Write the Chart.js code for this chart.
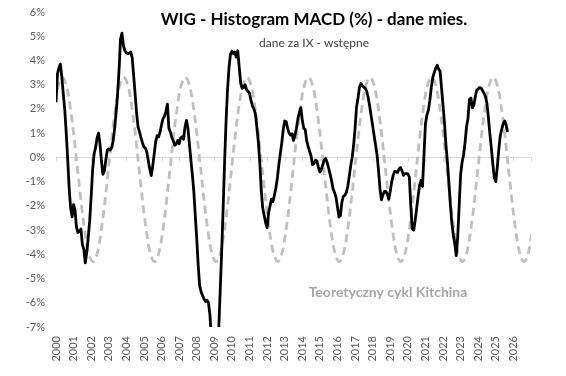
<!DOCTYPE html>
<html>
<head>
<meta charset="utf-8">
<script src="https://cdn.jsdelivr.net/npm/chart.js@4.4.1/dist/chart.umd.min.js"></script>
<style>
  html, body { margin: 0; padding: 0; background: #fff; }
</style>
</head>
<body>
<canvas id="chart-macd" width="566" height="376"></canvas>
<script>
// WIG MACD histogram, monthly values in %, Jan 2000 .. Sep 2025
const startYear = 2000;
const wigMacd = [
  2.28, 3.45, 3.7, 3.85, 3.3, 2.6, 1.95, 1.0, -0.1, -1.3, -2.1, -2.45,
  -1.95, -2.2, -2.9, -3.1, -3.05, -2.95, -3.6, -3.8, -4.35, -3.9, -3.3, -2.6,
  -1.6, -0.5, 0.15, 0.4, 0.8, 1.0, 0.56, -0.15, -0.7, -0.55, -0.1, 0.3,
  0.35, 0.3, 0.4, 0.7, 1.2, 1.85, 2.6, 3.6, 4.88, 5.13, 4.6, 4.4,
  4.32, 4.28, 4.3, 4.35, 4.1, 3.35, 2.6, 1.8, 1.25, 1.05, 0.8, 0.6,
  0.43, 0.38, 0.2, -0.15, -0.5, -0.75, -0.35, 0.15, 0.65, 0.9, 0.85, 1.05,
  1.35, 1.6, 1.7, 1.9, 2.2, 1.2, 1.05, 0.82, 0.68, 0.5, 0.55, 0.7,
  0.56, 0.8, 0.85, 0.75, 1.25, 1.53, 1.2, 0.55, -0.1, -0.7, -1.4, -2.4,
  -3.35, -4.45, -5.3, -5.55, -5.7, -5.85, -5.95, -5.9, -6.0, -6.5, -7.5, -8.0,
  -8.3, -8.1, -7.8, -7.1, -5.5, -3.9, -2.1, -0.2, 1.5, 2.8, 3.7, 4.25,
  4.38, 4.28, 4.35, 4.14, 4.4, 3.7, 3.05, 2.85, 2.88, 3.0, 2.8, 2.72,
  2.65, 2.35, 2.12, 2.0, 1.8, 1.25, 0.65, -0.2, -1.35, -2.1, -2.4, -2.7,
  -2.9, -2.3, -2.0, -1.72, -1.82, -1.55, -1.25, -0.85, -0.3, 0.15, 0.6, 1.15,
  1.5, 1.48, 1.2, 1.0, 0.92, 0.98, 0.7, 0.91, 1.2, 1.6, 1.85, 2.05,
  1.53, 1.2, 1.15, 0.68, 0.45, 0.25, 0.05, -0.3, -0.25, -0.12, -0.15, -0.42,
  -0.6, -0.5, -0.3, -0.1, -0.05, -0.22, -0.45, -0.7, -0.97, -1.3, -1.45, -1.65,
  -2.05, -2.46, -2.4, -1.85, -1.6, -1.57, -1.45, -1.2, -0.8, -0.35, 0.0, 0.5,
  1.2, 2.08, 2.45, 2.9, 3.05, 2.95, 2.9, 2.85, 2.72, 2.45, 2.1, 1.7,
  1.3, 0.9, 0.5, 0.1, -0.55, -1.3, -1.75, -1.55, -1.4, -1.4, -1.52, -1.72,
  -1.4, -1.0, -0.74, -0.58, -0.6, -0.62, -0.47, -0.42, -0.55, -0.74, -0.67, -0.67,
  -0.68, -0.8, -2.0, -2.95, -3.0, -2.6, -2.1, -1.6, -1.15, -0.95, -1.2, 0.1,
  1.39, 1.75, 1.95, 2.35, 2.9, 3.3, 3.5, 3.68, 3.8, 3.65, 3.55, 2.85,
  2.15, 1.4, 0.5, -0.2, -1.05, -1.95, -2.7, -3.2, -3.55, -4.05, -3.3, -2.0,
  -0.7, -0.2, 0.1, 0.6, 1.25, 1.6, 2.4, 2.45, 2.05, 2.15, 2.5, 2.78,
  2.82, 2.88, 2.85, 2.75, 2.65, 2.5, 2.2, 1.6, 0.95, 0.35, -0.3, -0.85,
  -1.0, -0.4, 0.3, 0.88, 1.15, 1.38, 1.5, 1.35, 1.05,
];

// theoretical Kitchin cycle, one reading every 3.5 months
const kitchinStart = 2000.06;
const kitchinStep = 3.5 / 12;
const kitchinCycle = [
  2.8, 3.3, 2.8, 1.4, -0.5, -2.4, -3.8, -4.3, -3.8, -2.4, -0.5, 1.4,
  2.8, 3.3, 2.8, 1.4, -0.5, -2.4, -3.8, -4.3, -3.8, -2.4, -0.5, 1.4,
  2.8, 3.3, 2.8, 1.4, -0.5, -2.4, -3.8, -4.3, -3.8, -2.4, -0.5, 1.4,
  2.8, 3.3, 2.8, 1.4, -0.5, -2.4, -3.8, -4.3, -3.8, -2.4, -0.5, 1.4,
  2.8, 3.3, 2.8, 1.4, -0.5, -2.4, -3.8, -4.3, -3.8, -2.4, -0.5, 1.4,
  2.8, 3.3, 2.8, 1.4, -0.5, -2.4, -3.8, -4.3, -3.8, -2.4, -0.5, 1.4,
  2.8, 3.3, 2.8, 1.4, -0.5, -2.4, -3.8, -4.3, -3.8, -2.4, -0.5, 1.4,
  2.8, 3.3, 2.8, 1.4, -0.5, -2.4, -3.8, -4.3, -3.8, -2.4,
];

const yearLabels = [
  '2000', '2001', '2002', '2003', '2004', '2005', '2006', '2007', '2008',
  '2009', '2010', '2011', '2012', '2013', '2014', '2015', '2016', '2017',
  '2018', '2019', '2020', '2021', '2022', '2023', '2024', '2025', '2026',
];

const titleText = 'WIG - Histogram MACD (%) - dane mies.';
const subtitleText = 'dane za IX - wstępne';
const kitchinText = 'Teoretyczny cykl Kitchina';

const FONT = 'Lato, "Open Sans", sans-serif';

const zeroAxis = {
  id: 'zeroAxis',
  beforeDatasetsDraw(chart) {
    const { ctx, chartArea, scales } = chart;
    const y0 = Math.round(scales.y.getPixelForValue(0)) + 0.5;
    ctx.save();
    ctx.strokeStyle = '#d9d9d9';
    ctx.lineWidth = 1;
    ctx.beginPath();
    ctx.moveTo(chartArea.left, y0);
    ctx.lineTo(chartArea.right, y0);
    scales.x.ticks.forEach((t) => {
      const x = Math.round(scales.x.getPixelForValue(t.value)) + 0.5;
      ctx.moveTo(x, y0);
      ctx.lineTo(x, y0 + 4);
    });
    ctx.stroke();
    ctx.restore();
  },
};

const chartText = {
  id: 'chartText',
  afterDraw(chart) {
    const { ctx } = chart;
    ctx.save();
    ctx.textAlign = 'center';
    ctx.textBaseline = 'middle';
    ctx.fillStyle = '#000';
    ctx.font = `bold 17px ${FONT}`;
    ctx.fillText(titleText, 314, 20);
    ctx.fillStyle = '#404040';
    ctx.font = `12px ${FONT}`;
    ctx.fillText(subtitleText, 314, 43);
    ctx.fillStyle = '#a6a6a6';
    ctx.font = `bold 14px ${FONT}`;
    ctx.fillText(kitchinText, 388, 292);
    ctx.restore();
  },
};

const ctx = document.getElementById('chart-macd').getContext('2d');

new Chart(ctx, {
  type: 'line',
  data: {
    datasets: [
      {
        label: 'WIG MACD',
        data: wigMacd.map((v, i) => ({ x: startYear + i / 12, y: v })),
        borderColor: '#000000',
        borderWidth: 2.8,
        borderJoinStyle: 'round',
        pointRadius: 0,
        tension: 0,
      },
      {
        label: kitchinText,
        data: kitchinCycle.map((v, i) => ({ x: kitchinStart + i * kitchinStep, y: v })),
        borderColor: '#bfbfbf',
        borderWidth: 2.8,
        borderDash: [8, 5],
        pointRadius: 0,
        cubicInterpolationMode: 'monotone',
      },
    ],
  },
  options: {
    responsive: false,
    animation: false,
    layout: { padding: { top: 12, right: 35, left: 0, bottom: 0 } },
    plugins: {
      legend: { display: false },
      tooltip: { enabled: false },
    },
    scales: {
      x: {
        type: 'linear',
        min: 2000,
        max: 2027,
        grid: { display: false, drawTicks: false },
        border: { display: false },
        afterFit: (scale) => { scale.height = 49; },
        ticks: {
          stepSize: 1,
          autoSkip: false,
          maxRotation: 90,
          minRotation: 90,
          padding: 9,
          color: '#595959',
          font: { family: FONT, size: 11 },
          callback: (value) => (yearLabels.includes(String(value)) ? String(value) : ''),
        },
      },
      y: {
        min: -7,
        max: 6,
        grid: { display: false, drawTicks: false },
        border: { display: false },
        afterFit: (scale) => {
          scale.width = 56;
          scale.paddingTop = 6;
          scale.paddingBottom = 6;
        },
        ticks: {
          stepSize: 1,
          padding: 11,
          color: '#595959',
          font: { family: FONT, size: 11 },
          callback: (value) => `${value}%`,
        },
      },
    },
  },
  plugins: [zeroAxis, chartText],
});
</script>
</body>
</html>
